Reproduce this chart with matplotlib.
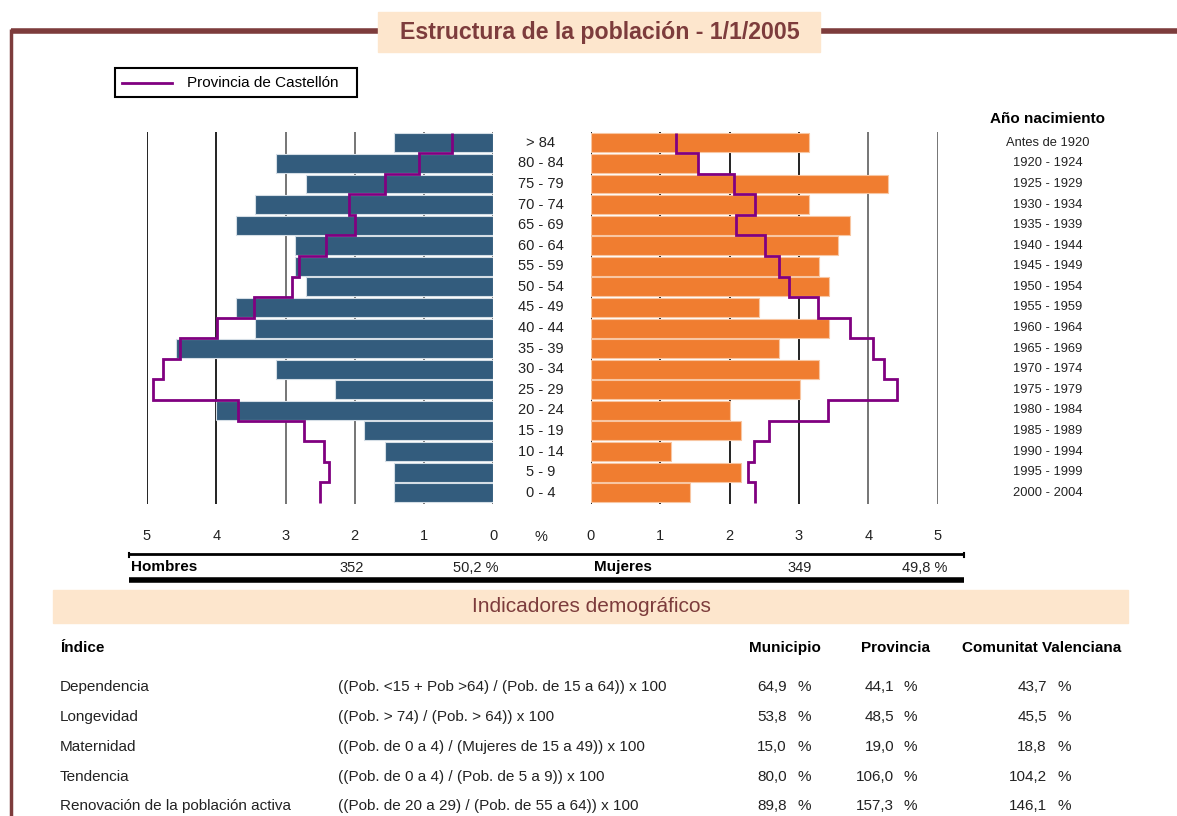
import numpy as np
import matplotlib
matplotlib.use("Agg")
import matplotlib.pyplot as plt
from matplotlib.transforms import blended_transform_factory
from matplotlib.patches import Rectangle

plt.rcParams['font.family'] = ['Liberation Sans', 'DejaVu Sans']

edades = ['> 84', '80 - 84', '75 - 79', '70 - 74', '65 - 69', '60 - 64', '55 - 59',
          '50 - 54', '45 - 49', '40 - 44', '35 - 39', '30 - 34', '25 - 29', '20 - 24',
          '15 - 19', '10 - 14', '5 - 9', '0 - 4']
nacimiento = ['Antes de 1920', '1920 - 1924', '1925 - 1929', '1930 - 1934', '1935 - 1939',
              '1940 - 1944', '1945 - 1949', '1950 - 1954', '1955 - 1959', '1960 - 1964',
              '1965 - 1969', '1970 - 1974', '1975 - 1979', '1980 - 1984', '1985 - 1989',
              '1990 - 1994', '1995 - 1999', '2000 - 2004']

# % de poblacion del municipio (de arriba a abajo)
hombres = [1.44, 3.14, 2.71, 3.44, 3.72, 2.86, 2.86, 2.71, 3.72,
           3.44, 4.58, 3.14, 2.28, 4.01, 1.87, 1.57, 1.44, 1.44]
mujeres = [3.15, 1.55, 4.29, 3.15, 3.73, 3.57, 3.29, 3.44, 2.43,
           3.44, 2.72, 3.29, 3.01, 2.01, 2.16, 1.15, 2.16, 1.43]
# provincia de Castellon
prov_hombres = [0.60, 1.07, 1.56, 2.08, 1.99, 2.41, 2.80, 2.91, 3.46,
                3.99, 4.52, 4.77, 4.92, 3.68, 2.73, 2.45, 2.37, 2.50]
prov_mujeres = [1.23, 1.55, 2.06, 2.37, 2.10, 2.51, 2.72, 2.86, 3.27,
                3.74, 4.07, 4.22, 4.42, 3.42, 2.57, 2.35, 2.26, 2.37]

total_h = '352'
pct_h = '50,2 %'
total_m = '349'
pct_m = '49,8 %'

indices = ['Dependencia', 'Longevidad', 'Maternidad', 'Tendencia',
           'Renovación de la población activa']
formulas = ['((Pob. <15 + Pob >64) / (Pob. de 15 a 64)) x 100',
            '((Pob. > 74) / (Pob. > 64)) x 100',
            '((Pob. de 0 a 4) / (Mujeres de 15 a 49)) x 100',
            '((Pob. de 0 a 4) / (Pob. de 5 a 9)) x 100',
            '((Pob. de 20 a 29) / (Pob. de 55 a 64)) x 100']
municipio = ['64,9', '53,8', '15,0', '80,0', '89,8']
provincia = ['44,1', '48,5', '19,0', '106,0', '157,3']
comunitat = ['43,7', '45,5', '18,8', '104,2', '146,1']

azul = '#335c7d'
naranja = '#f07d30'
morado = '#800080'
marron = '#7d3c3c'
beige = '#fde6cd'
W, H = 1177, 816

fig = plt.figure(figsize=(W / 100, H / 100), dpi=100)
bg = fig.add_axes([0, 0, 1, 1])
bg.set_xlim(0, W)
bg.set_ylim(H, 0)
bg.axis('off')

# marco y titulo
bg.plot([11, W], [31, 31], color=marron, lw=4, solid_capstyle='butt')
bg.plot([11, 11], [29, H], color=marron, lw=2.5, solid_capstyle='butt')
bg.add_patch(Rectangle((378, 12), 442, 40, color=beige, zorder=3))
bg.text(600, 32, 'Estructura de la población - 1/1/2005', ha='center', va='center',
        fontsize=16.7, fontweight='bold', color=marron, zorder=4)

# leyenda
bg.add_patch(Rectangle((115, 68), 242, 29, fill=False, ec='black', lw=1.5))
bg.plot([122, 172], [83, 83], color=morado, lw=2)
bg.text(187, 83, 'Provincia de Castellón', va='center', fontsize=11)

bg.text(1048, 119, 'Año nacimiento', ha='center', va='center', fontsize=11,
        fontweight='bold')

n = len(edades)
y = np.arange(n)[::-1]
edges = np.arange(n + 1) - 0.5


def px(x0, x1, y0, y1):
    return [x0 / W, 1 - y1 / H, (x1 - x0) / W, (y1 - y0) / H]


axL = fig.add_axes(px(147, 493.3, 131.5, 504))
axR = fig.add_axes(px(590.7, 937.7, 131.5, 504))

for ax, datos, prov, color, borde, grises in [
        (axL, hombres, prov_hombres, azul, '#d5dee6', [0, 1, 2, 3]),
        (axR, mujeres, prov_mujeres, naranja, '#f8c6a2', [4, 5])]:
    ax.set_xlim(0, 5)
    ax.set_ylim(-0.55, n - 0.45)
    for v in range(6):
        ax.axvline(v, color='#6a6a6a' if v in grises else '#111111', lw=1.3, zorder=1)
    ax.barh(y, datos, height=0.92, color=color, edgecolor=borde, lw=0.8, zorder=2)
    ax.stairs(prov[::-1], edges, orientation='horizontal', baseline=None,
              color=morado, lw=2, zorder=3)
    ax.set_xticks(range(6))
    ax.tick_params(axis='x', length=0, pad=18, labelsize=10.5, labelcolor='#222222')
    ax.set_yticks([])
    for s in ax.spines.values():
        s.set_visible(False)
    ax.patch.set_visible(False)
axL.invert_xaxis()

trans = blended_transform_factory(bg.transData, axL.transData)
for yi, e, a in zip(y, edades, nacimiento):
    bg.text(541, yi, e, transform=trans, ha='center', va='center', fontsize=10.5,
            color='#222222')
    bg.text(1048, yi, a, transform=trans, ha='center', va='center', fontsize=9.3,
            color='#222222')
bg.text(541, 537, '%', ha='center', va='center', fontsize=10.5, color='#222222')

# totales
bg.plot([129, 964], [554, 554], color='black', lw=2, solid_capstyle='butt')
bg.plot([129, 129], [553, 557], color='black', lw=1.5)
bg.plot([964, 964], [553, 557], color='black', lw=1.5)
bg.plot([129, 964], [580, 580], color='black', lw=4, solid_capstyle='butt')
bg.text(131, 567, 'Hombres', va='center', fontsize=11, fontweight='bold')
bg.text(352, 568, total_h, ha='center', va='center', fontsize=10.5, color='#222222')
bg.text(476, 568, pct_h, ha='center', va='center', fontsize=10.5, color='#222222')
bg.text(594, 567, 'Mujeres', va='center', fontsize=11, fontweight='bold')
bg.text(800, 568, total_m, ha='center', va='center', fontsize=10.5, color='#222222')
bg.text(925, 568, pct_m, ha='center', va='center', fontsize=10.5, color='#222222')

# indicadores
bg.add_patch(Rectangle((53, 590), 1075, 33, color=beige))
bg.text(591, 606, 'Indicadores demográficos', ha='center', va='center', fontsize=15,
        color=marron)

bg.text(60, 648, 'Índice', va='center', fontsize=11, fontweight='bold')
bg.text(785, 648, 'Municipio', ha='center', va='center', fontsize=11, fontweight='bold')
bg.text(896, 648, 'Provincia', ha='center', va='center', fontsize=11, fontweight='bold')
bg.text(1042, 648, 'Comunitat Valenciana', ha='center', va='center', fontsize=11,
        fontweight='bold')

filas = [687, 717, 747, 777, 806]
for fy, ind, f, m, p, c in zip(filas, indices, formulas, municipio, provincia, comunitat):
    bg.text(60, fy, ind, va='center', fontsize=11, color='#222222')
    bg.text(338, fy, f, va='center', fontsize=11, color='#222222')
    for val, xn in [(m, 787), (p, 894), (c, 1047)]:
        bg.text(xn, fy, val, ha='right', va='center', fontsize=11, color='#222222')
        bg.text(xn + 10, fy, '%', ha='left', va='center', fontsize=11, color='#222222')

fig.savefig('out.png', dpi=100)
